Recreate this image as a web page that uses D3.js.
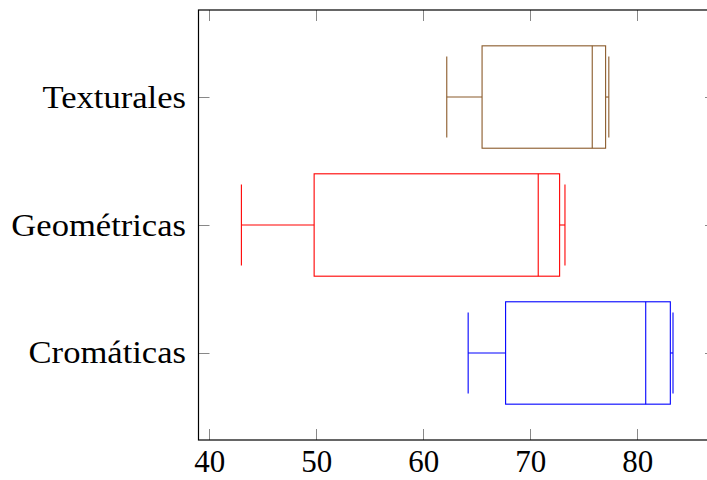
<!DOCTYPE html>
<html>
<head>
<meta charset="utf-8">
<script src="https://cdn.jsdelivr.net/npm/d3@7"></script>
<style>
  html, body { margin: 0; padding: 0; background: #fff; }
  svg { display: block; }
</style>
</head>
<body>
<svg id="chart" width="707" height="480"></svg>
<script>
// Box plot of scores per feature family
const categories = ["Cromáticas", "Geométricas", "Texturales"];
const lowerWhisker  = [64.2, 43.0, 62.2];
const lowerQuartile = [67.7, 49.8, 65.5];
const medianValue   = [80.8, 70.75, 75.8];
const upperQuartile = [83.1, 72.75, 77.05];
const upperWhisker  = [83.35, 73.25, 77.35];
const boxColors = ["#0000ff", "#ff0000", "#8a5a2a"];
const xTicks = [40, 50, 60, 70, 80];

const svg = d3.select("#chart");
const plotLeft = 198.5, plotRight = 716, plotTop = 10, plotBottom = 440;

const x = d3.scaleLinear().domain([38.99, 87.37]).range([plotLeft, plotRight]);
const y = d3.scaleLinear().domain([0.32, 3.68]).range([plotBottom, plotTop]);
const boxHalf = 0.4, capHalf = 0.317;

const rows = categories.map((c, i) => ({
  name: c, pos: i + 1, lw: lowerWhisker[i], q1: lowerQuartile[i],
  med: medianValue[i], q3: upperQuartile[i], uw: upperWhisker[i], color: boxColors[i]
}));

const serif = "'Liberation Serif', 'DejaVu Serif', serif";

// Boxes and whiskers
const g = svg.append("g");
rows.forEach(r => {
  const gg = g.append("g").attr("stroke", r.color).attr("fill", "none").attr("stroke-width", 1.1);
  const yc = y(r.pos);
  gg.append("line").attr("x1", x(r.lw)).attr("x2", x(r.q1)).attr("y1", yc).attr("y2", yc);
  gg.append("line").attr("x1", x(r.q3)).attr("x2", x(r.uw)).attr("y1", yc).attr("y2", yc);
  gg.append("line").attr("x1", x(r.lw)).attr("x2", x(r.lw))
    .attr("y1", y(r.pos + capHalf)).attr("y2", y(r.pos - capHalf));
  gg.append("line").attr("x1", x(r.uw)).attr("x2", x(r.uw))
    .attr("y1", y(r.pos + capHalf)).attr("y2", y(r.pos - capHalf));
  gg.append("rect").attr("x", x(r.q1)).attr("y", y(r.pos + boxHalf))
    .attr("width", x(r.q3) - x(r.q1)).attr("height", y(r.pos - boxHalf) - y(r.pos + boxHalf));
  gg.append("line").attr("x1", x(r.med)).attr("x2", x(r.med))
    .attr("y1", y(r.pos + boxHalf)).attr("y2", y(r.pos - boxHalf));
});

// Tick marks (inward, on all four sides)
const tickLen = 11;
const ticks = svg.append("g").attr("stroke", "#888").attr("stroke-width", 1);
xTicks.forEach(v => {
  const xv = Math.round(x(v)) + 0.5;
  ticks.append("line").attr("x1", xv).attr("x2", xv).attr("y1", plotBottom).attr("y2", plotBottom - tickLen);
  ticks.append("line").attr("x1", xv).attr("x2", xv).attr("y1", plotTop).attr("y2", plotTop + tickLen);
});
rows.forEach(r => {
  const yv = Math.round(y(r.pos)) + 0.5;
  ticks.append("line").attr("x1", plotLeft).attr("x2", plotLeft + tickLen).attr("y1", yv).attr("y2", yv);
  ticks.append("line").attr("x1", plotRight).attr("x2", plotRight - tickLen).attr("y1", yv).attr("y2", yv);
});

// Frame
svg.append("rect").attr("x", plotLeft).attr("y", plotTop)
  .attr("width", plotRight - plotLeft).attr("height", plotBottom - plotTop)
  .attr("fill", "none").attr("stroke", "#000").attr("stroke-width", 1.2);

// X tick labels
const xAxis = d3.axisBottom(x).tickValues(xTicks).tickSize(0).tickPadding(0);
const xg = svg.append("g").attr("transform", `translate(0,${plotBottom})`).call(xAxis);
xg.select(".domain").remove();
xg.selectAll("text")
  .attr("y", 32).attr("dy", null)
  .attr("font-family", serif).attr("font-size", 31).attr("fill", "#000");

// Category labels, widened slightly for a book-face look
const labels = svg.append("g").selectAll("text").data(rows).join("text")
  .attr("x", 186).attr("y", d => y(d.pos) + 10.5)
  .attr("text-anchor", "end")
  .attr("font-family", serif).attr("font-size", 31).attr("fill", "#000")
  .text(d => d.name);
labels.each(function () {
  const w = this.getComputedTextLength();
  d3.select(this).attr("textLength", w * 1.115).attr("lengthAdjust", "spacingAndGlyphs");
});
</script>
</body>
</html>
